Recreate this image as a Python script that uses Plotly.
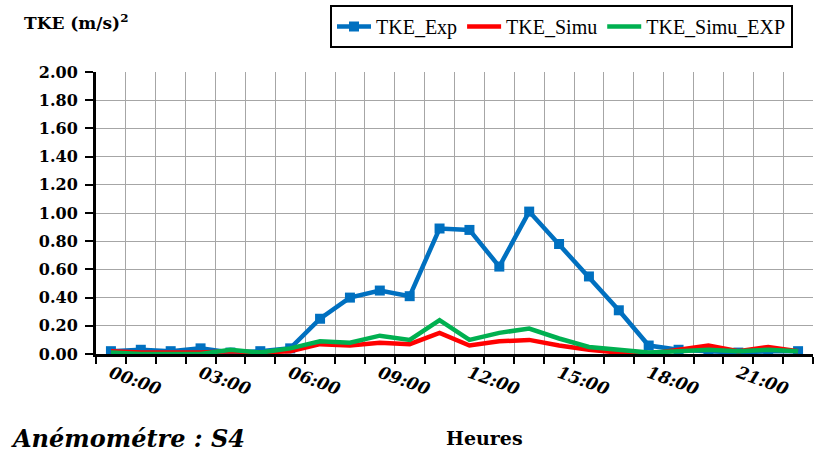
import plotly.graph_objects as go

hours = ["00:00", "01:00", "02:00", "03:00", "04:00", "05:00", "06:00", "07:00",
         "08:00", "09:00", "10:00", "11:00", "12:00", "13:00", "14:00", "15:00",
         "16:00", "17:00", "18:00", "19:00", "20:00", "21:00", "22:00", "23:00"]
tick_text = ["00:00", "", "", "03:00", "", "", "06:00", "", "", "09:00", "", "",
             "12:00", "", "", "15:00", "", "", "18:00", "", "", "21:00", "", ""]

tke_exp = [0.02, 0.03, 0.02, 0.04, 0.01, 0.02, 0.04, 0.25, 0.40, 0.45, 0.41, 0.89,
           0.88, 0.62, 1.01, 0.78, 0.55, 0.31, 0.06, 0.03, 0.02, 0.01, 0.02, 0.02]
tke_simu = [0.02, 0.01, 0.01, 0.01, 0.02, 0.01, 0.02, 0.07, 0.06, 0.08, 0.07, 0.15,
            0.06, 0.09, 0.10, 0.06, 0.03, 0.01, 0.00, 0.03, 0.06, 0.02, 0.05, 0.02]
tke_simu_exp = [0.01, 0.00, 0.00, 0.00, 0.03, 0.01, 0.04, 0.09, 0.08, 0.13, 0.10, 0.24,
                0.10, 0.15, 0.18, 0.11, 0.05, 0.03, 0.01, 0.02, 0.03, 0.02, 0.03, 0.02]
y_ticks = [0.0, 0.2, 0.4, 0.6, 0.8, 1.0, 1.2, 1.4, 1.6, 1.8, 2.0]

SERIF = "DejaVu Serif"

fig = go.Figure()
fig.add_trace(go.Scatter(x=hours, y=tke_exp, name="TKE_Exp", mode="lines+markers",
                         line=dict(color="#0070C0", width=4.5),
                         marker=dict(symbol="square", size=10, color="#0070C0")))
fig.add_trace(go.Scatter(x=hours, y=tke_simu, name="TKE_Simu", mode="lines",
                         line=dict(color="#FF0000", width=4.5)))
fig.add_trace(go.Scatter(x=hours, y=tke_simu_exp, name="TKE_Simu_EXP", mode="lines",
                         line=dict(color="#00B050", width=4.5)))

fig.update_layout(
    width=814, height=452,
    margin=dict(l=96, r=1, t=72, b=98, autoexpand=False),
    paper_bgcolor="white", plot_bgcolor="white",
    showlegend=True,
    legend=dict(orientation="h", xref="container", yref="container",
                x=330 / 814, y=1 - 5 / 452, xanchor="left", yanchor="top",
                bordercolor="black", borderwidth=2, bgcolor="white",
                font=dict(family="Liberation Serif", size=20, color="black"),
                itemwidth=34, tracegroupgap=0),
    xaxis=dict(type="category", categoryorder="array", categoryarray=hours,
               tickmode="array", tickvals=hours, ticktext=tick_text,
               tickson="boundaries", showgrid=True, gridcolor="#A6A6A6", gridwidth=1,
               ticks="outside", ticklen=7, tickwidth=2, tickcolor="black",
               showline=True, linecolor="black", linewidth=3,
               tickangle=20, automargin=False,
               tickfont=dict(family=SERIF, size=17, color="black", weight="bold", style="italic"),
               range=[-0.5, 23.5]),
    yaxis=dict(range=[0, 2.0], tickmode="array", tickvals=y_ticks, tickformat=".2f",
               showgrid=True, gridcolor="#A6A6A6", gridwidth=1,
               ticks="outside", ticklen=8, tickwidth=2, tickcolor="black",
               showline=True, linecolor="black", linewidth=3, zeroline=False,
               automargin=False, ticklabelstandoff=4,
               tickfont=dict(family=SERIF, size=16, color="black", weight="bold")),
    annotations=[
        dict(text="TKE (m/s)<sup>2</sup>", xref="paper", yref="paper", x=-0.103, y=1.177,
             xanchor="left", yanchor="middle", showarrow=False,
             font=dict(family=SERIF, size=17, color="black", weight="bold")),
        dict(text="Anémométre : S4", xref="paper", yref="paper", x=-0.122, y=-0.298,
             xanchor="left", yanchor="middle", showarrow=False,
             font=dict(family=SERIF, size=24, color="black", weight="bold", style="italic")),
        dict(text="Heures", xref="paper", yref="paper", x=0.5425, y=-0.298,
             xanchor="center", yanchor="middle", showarrow=False,
             font=dict(family=SERIF, size=19, color="black", weight="bold")),
    ],
)

fig.write_html("out.html", config={"displayModeBar": False},
               post_script="document.body.style.margin='0';")
